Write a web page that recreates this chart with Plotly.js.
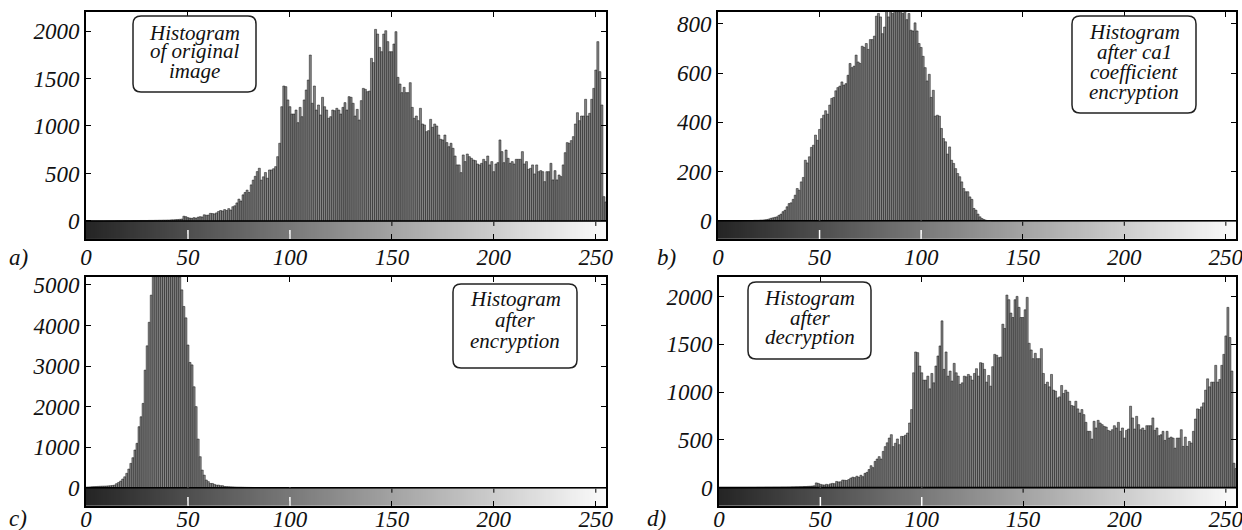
<!DOCTYPE html>
<html><head><meta charset="utf-8">
<script src="https://cdn.plot.ly/plotly-3.0.1.min.js"></script>
<style>html,body{margin:0;padding:0;background:#fff}#chart{width:1242px;height:530px}</style>
</head><body><div id="chart"></div>
<script>
const W = 1242, H = 530;

// Gray levels 0..255 (histogram bins / categories)
const grayLevels = Array.from({length: 256}, (_, i) => i);
const xTickValues = [0, 50, 100, 150, 200, 250];

// a) Histogram of original image
const originalCounts = [
  0,0,0,0,0,0,0,0,0,0,1,1,1,1,1,2,
  2,2,2,3,3,3,3,4,4,4,4,5,5,5,5,6,
  6,6,7,7,8,8,9,9,10,10,12,12,14,15,17,20,
  50,45,35,30,28,35,30,40,45,42,65,60,62,80,78,75,
  85,100,110,105,120,110,130,115,150,160,190,230,210,275,300,325,
  300,380,430,470,520,555,430,465,510,450,537,537,550,572,677,818,
  1203,1421,1414,1274,1203,1126,1126,1168,1035,1196,1098,1274,1379,1484,1747,1239,
  1421,1168,1221,1116,1302,1203,1168,1081,1098,1168,1161,1186,1168,1126,1196,1246,
  1168,1309,1302,1239,1105,1175,1063,1267,1396,1386,1361,1368,1712,1667,2017,1968,
  1828,1782,1968,2003,1888,1782,1782,1863,1993,1512,1442,1351,1407,1351,1351,1456,
  1196,1081,1105,1056,1186,1021,1011,940,951,1070,986,1021,1000,905,860,853,
  905,825,782,818,765,684,590,590,509,695,625,705,677,660,642,635,
  600,590,607,649,625,684,590,625,519,600,614,853,730,614,747,660,
  607,625,600,649,649,649,730,600,625,544,554,590,495,590,519,530,
  519,414,519,519,607,432,530,432,484,467,590,719,825,818,846,888,
  1021,1140,1056,1105,1105,1281,1105,1133,1281,1396,1589,1888,1572,1221,256,200
];

// b) Histogram after cA1 coefficient encryption
const ca1EncryptedCounts = [
  0,0,0,0,0,0,0,0,0,0,0,0,1,1,1,1,
  1,1,2,2,2,3,3,4,5,7,10,12,14,16,22,27,
  37,43,57,70,73,87,104,131,124,158,176,246,235,260,298,307,
  348,327,371,415,429,447,433,470,497,501,528,541,547,564,551,557,
  591,639,622,628,673,645,639,709,704,720,696,736,736,750,831,842,
  828,760,787,865,828,860,842,870,890,875,860,842,850,817,842,774,
  771,804,771,720,704,668,622,568,595,501,530,425,429,425,375,334,
  321,271,300,246,233,212,192,179,158,131,118,118,97,87,50,43,
  27,16,9,5,2,1,1,0,0,0,0,0,0,0,0,0,
  0,0,0,0,0,0,0,0,0,0,0,0,0,0,0,0,
  0,0,0,0,0,0,0,0,0,0,0,0,0,0,0,0,
  0,0,0,0,0,0,0,0,0,0,0,0,0,0,0,0,
  0,0,0,0,0,0,0,0,0,0,0,0,0,0,0,0,
  0,0,0,0,0,0,0,0,0,0,0,0,0,0,0,0,
  0,0,0,0,0,0,0,0,0,0,0,0,0,0,0,0,
  0,0,0,0,0,0,0,0,0,0,0,0,0,0,0,0
];

// c) Histogram after encryption
const encryptedCounts = [
  15,18,20,25,28,30,33,36,38,40,42,46,50,55,65,100,
  130,165,215,270,355,460,600,740,930,1095,1505,1750,2080,2900,3500,4080,
  4750,5400,5700,5900,6100,6200,6250,6200,6100,5900,5700,5500,5350,5250,5200,4880,
  4470,4190,3520,3090,3030,2490,2000,1200,765,435,310,190,150,105,105,82,
  65,65,50,50,30,28,25,22,20,18,16,15,14,12,10,9,
  8,7,6,5,5,4,4,3,3,2,2,2,1,1,1,1,
  0,0,0,0,0,0,0,0,0,0,0,0,0,0,0,0,
  0,0,0,0,0,0,0,0,0,0,0,0,0,0,0,0,
  0,0,0,0,0,0,0,0,0,0,0,0,0,0,0,0,
  0,0,0,0,0,0,0,0,0,0,0,0,0,0,0,0,
  0,0,0,0,0,0,0,0,0,0,0,0,0,0,0,0,
  0,0,0,0,0,0,0,0,0,0,0,0,0,0,0,0,
  0,0,0,0,0,0,0,0,0,0,0,0,0,0,0,0,
  0,0,0,0,0,0,0,0,0,0,0,0,0,0,0,0,
  0,0,0,0,0,0,0,0,0,0,0,0,0,0,0,0,
  0,0,0,0,0,0,0,0,0,0,0,0,0,0,0,0
];

// d) Histogram after decryption (lossless: identical to the original)
const decryptedCounts = originalCounts.slice();

const panelLetters = ['a)', 'b)', 'c)', 'd)'];
const boxTexts = [
  ['Histogram', 'of original', 'image'],
  ['Histogram', 'after ca1', 'coefficient', 'encryption'],
  ['Histogram', 'after', 'encryption'],
  ['Histogram', 'after', 'decryption']
];
const yTickSets = [
  [0, 500, 1000, 1500, 2000],
  [0, 200, 400, 600, 800],
  [0, 1000, 2000, 3000, 4000, 5000],
  [0, 500, 1000, 1500, 2000]
];
const yRanges = [[-190, 2200], [-74, 848], [-451, 5197], [-192, 2206]];
const countSets = [originalCounts, ca1EncryptedCounts, encryptedCounts, decryptedCounts];

// layout geometry (pixels)
const plotBoxes = [ [86, 606, 12, 239], [718, 1236, 12, 239], [86, 606, 277, 506], [719, 1236, 277, 506] ];
const xLabelStandoff = [-4, -4, -9, -9];
const labelBoxes = [ [133, 256, 16, 92], [1072, 1196, 16, 113], [453, 577, 284, 368], [748, 871, 282, 359] ];
const lineCenters = [ [33, 51, 71], [32, 52, 72, 92], [299, 320, 341], [298, 318, 337] ];
const letterPos = [ [18, 257], [666, 257], [18, 518], [656, 518] ];

const PX = v => v / W, PY = v => 1 - v / H;
const FAMILY = 'Liberation Serif';
const serif = {family: FAMILY, size: 23, color: '#111', style: 'italic'};

function roundedBoxPath(l, t, r, b, rad) {
  const X = v => PX(v).toFixed(5), Y = v => PY(v).toFixed(5);
  return `M ${X(l+rad)},${Y(t)} L ${X(r-rad)},${Y(t)} Q ${X(r)},${Y(t)} ${X(r)},${Y(t+rad)} ` +
         `L ${X(r)},${Y(b-rad)} Q ${X(r)},${Y(b)} ${X(r-rad)},${Y(b)} L ${X(l+rad)},${Y(b)} ` +
         `Q ${X(l)},${Y(b)} ${X(l)},${Y(b-rad)} L ${X(l)},${Y(t+rad)} Q ${X(l)},${Y(t)} ${X(l+rad)},${Y(t)} Z`;
}

const data = [];
const layout = {
  width: W, height: H, margin: {l: 0, r: 0, t: 0, b: 0},
  paper_bgcolor: '#fff', plot_bgcolor: '#fff', showlegend: false, bargap: 0,
  font: {family: FAMILY},
  shapes: [], annotations: []
};

for (let p = 0; p < 4; p++) {
  const sfx = p === 0 ? '' : String(p + 1);
  const xa = 'x' + sfx, ya = 'y' + sfx;
  const [l, r, t, b] = plotBoxes[p];
  const yr = yRanges[p];

  data.push({
    type: 'heatmap', xaxis: xa, yaxis: ya,
    x: grayLevels, y: [yr[0], 0], z: [grayLevels],
    zmin: 0, zmax: 255, showscale: false, hoverinfo: 'skip',
    colorscale: [[0, '#242424'], [1, '#fbfbfb']]
  });
  data.push({
    type: 'bar', xaxis: xa, yaxis: ya,
    x: grayLevels, y: countSets[p], width: 1,
    marker: {color: '#858585', line: {color: '#000', width: 0.45}}
  });

  layout['xaxis' + sfx] = {
    domain: [PX(l), PX(r)], range: [0, 255], anchor: ya,
    showline: true, linecolor: '#000', linewidth: 2, mirror: 'ticks',
    ticks: 'inside', ticklen: 5, tickwidth: 1, tickcolor: '#000',
    tickvals: xTickValues, ticktext: xTickValues.map(String),
    ticklabelstandoff: xLabelStandoff[p], ticklabeloverflow: 'allow',
    showgrid: false, zeroline: false, tickfont: serif, fixedrange: true
  };
  layout['yaxis' + sfx] = {
    domain: [PY(b), PY(t)], range: yr, anchor: xa,
    showline: true, linecolor: '#000', linewidth: 2, mirror: 'ticks',
    ticks: 'inside', ticklen: 5, tickwidth: 1, tickcolor: '#000',
    tickvals: yTickSets[p], ticktext: yTickSets[p].map(String),
    ticklabeloverflow: 'allow',
    showgrid: false, zeroline: false, tickfont: serif, fixedrange: true
  };

  // zero line (top edge of the gray-level bar)
  layout.shapes.push({type: 'line', xref: xa + ' domain', yref: ya, x0: 0, x1: 1, y0: 0, y1: 0,
    line: {color: '#000', width: 1.6}, layer: 'above'});

  // ticks inside the gray-level bar
  xTickValues.slice(1).forEach(v => {
    if (v < 125) {
      layout.shapes.push({type: 'line', xref: xa, yref: ya, x0: v, x1: v, y0: yr[0], y1: 0,
        line: {color: '#fff', width: 1.5, dash: 'dash'}, layer: 'above'});
    } else {
      layout.shapes.push({type: 'line', xref: xa, yref: ya, x0: v, x1: v,
        ysizemode: 'pixel', yanchor: 0, y0: -1, y1: -5,
        line: {color: '#000', width: 1}, layer: 'above'});
    }
  });

  // rounded label box
  const [bl, br, bt, bb] = labelBoxes[p];
  layout.shapes.push({type: 'path', xref: 'paper', yref: 'paper', path: roundedBoxPath(bl, bt, br, bb, 8),
    line: {color: '#222', width: 1.5}, fillcolor: '#fff', layer: 'above'});
  boxTexts[p].forEach((txt, i) => {
    layout.annotations.push({xref: 'paper', yref: 'paper', x: PX((bl + br) / 2), y: PY(lineCenters[p][i]),
      xanchor: 'center', yanchor: 'middle', showarrow: false, text: txt,
      font: {family: FAMILY, size: 21, color: '#111', style: 'italic'}});
  });

  // panel letter
  layout.annotations.push({xref: 'paper', yref: 'paper', x: PX(letterPos[p][0]), y: PY(letterPos[p][1]),
    xanchor: 'center', yanchor: 'middle', showarrow: false, text: panelLetters[p], font: serif});
}

Plotly.newPlot('chart', data, layout, {displayModeBar: false, staticPlot: true});
</script>
</body></html>
